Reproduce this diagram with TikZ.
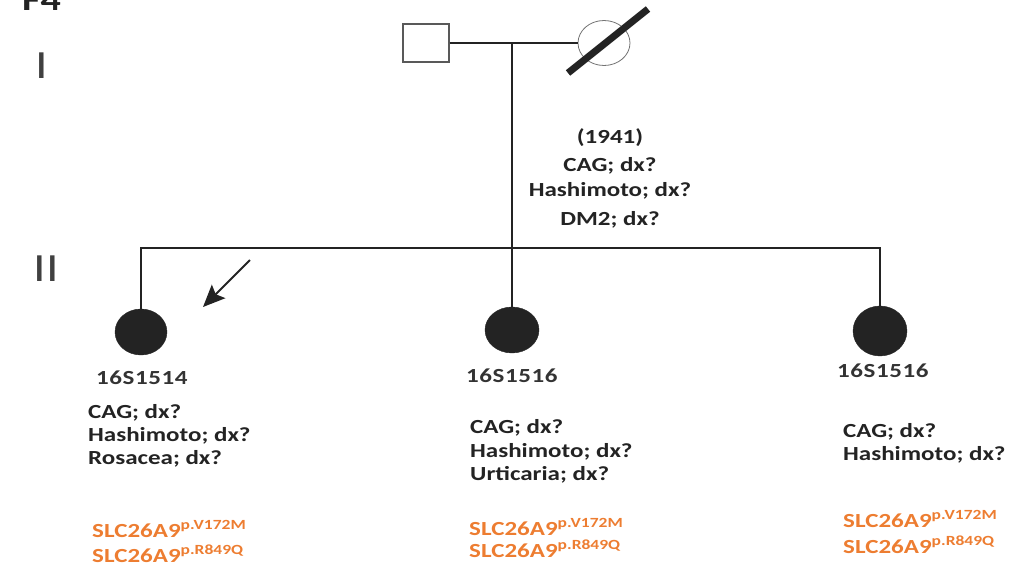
\documentclass[tikz,border=0pt]{standalone}
\usepackage{fontspec}
\setmainfont[FakeStretch=1.25]{Carlito}
\usetikzlibrary{shapes.geometric,arrows.meta,calc}
\definecolor{gorange}{RGB}{237,125,49}
\definecolor{ink}{RGB}{35,35,35}
\begin{document}
\begin{tikzpicture}[x=1pt,y=-1pt,
  ln/.style={line width=1.6pt, draw=ink},
  txt/.style={font=\fontsize{20}{24}\selectfont\bfseries, text=ink, inner sep=0pt, anchor=base west},
  ctxt/.style={txt, anchor=base},
  gene/.style={txt, text=gorange},
  idtxt/.style={font=\fontsize{20}{24}\selectfont\bfseries\addfontfeature{LetterSpace=3}, text=black!80, inner sep=0pt, anchor=base west},
  gen/.style={font=\fontsize{40}{44}\selectfont, text=black!75, inner sep=0pt, anchor=base},
  affected/.style={ellipse, fill=ink, draw=ink, inner sep=0pt}
]
\useasboundingbox (0,0) rectangle (1025,570);
% title
\node[font=\fontsize{32}{36}\selectfont\bfseries, text=ink, inner sep=0pt, anchor=base west] (title) at (22,10) {F4};
% generations
\node[gen] (g1) at (42,78) {I};
\node[gen] (g2) at (46,281) {II};
% generation I
\node[draw=black!65, line width=1.4pt, minimum width=46pt, minimum height=38pt, inner sep=0pt] (f) at (426,43) {};
\node[ellipse, draw=black!55, line width=0.8pt, minimum width=52pt, minimum height=45pt, inner sep=0pt] (m) at (604,43) {};
\draw[ln] (f.east) -- (m.west);
\draw[line width=7pt, draw=ink] ($(m.center)+(-36,30)$) -- ($(m.center)+(44,-34)$);
\coordinate (mid) at (512,43);
\coordinate (sib) at (512,248);
% generation II
\node[affected, minimum width=52pt, minimum height=46pt] (c1) at (141,332) {};
\node[affected, minimum width=54pt, minimum height=46pt] (c2) at (512,330) {};
\node[affected, minimum width=54pt, minimum height=50pt] (c3) at (880,331) {};
\draw[ln] (mid) -- (c2.north);
\draw[ln] (c1.north) -- (c1.north |- sib) -- (c3.north |- sib) -- (c3.north);
% proband arrow
\coordinate (pa) at (250,260);
\coordinate (pb) at (203,307);
\draw[line width=2pt, draw=ink, -{Stealth[length=22pt,width=19pt,inset=4pt]}] (pa) -- (pb);
% mother text
\node[ctxt] (m1) at (610,143) {(1941)};
\node[ctxt] (m2) at (610,171) {CAG; dx?};
\node[ctxt] (m3) at (610,196) {Hashimoto; dx?};
\node[ctxt] (m4) at (610,225) {DM2; dx?};
% child 1
\node[idtxt] (i1) at (96,384) {16S1514};
\node[txt] (a1) at (88,418) {CAG; dx?};
\node[txt] (a2) at (88,441) {Hashimoto; dx?};
\node[txt] (a3) at (88,464) {Rosacea; dx?};
\node[gene] (a4) at (92,537) {SLC26A9\textsuperscript{p.V172M}};
\node[gene] (a5) at (92,562) {SLC26A9\textsuperscript{p.R849Q}};
% child 2
\node[idtxt] (i2) at (466,382) {16S1516};
\node[txt] (b1) at (470,433) {CAG; dx?};
\node[txt] (b2) at (470,457) {Hashimoto; dx?};
\node[txt] (b3) at (470,480) {Urticaria; dx?};
\node[gene] (b4) at (469,535) {SLC26A9\textsuperscript{p.V172M}};
\node[gene] (b5) at (469,557) {SLC26A9\textsuperscript{p.R849Q}};
% child 3
\node[idtxt] (i3) at (837,377) {16S1516};
\node[txt] (d1) at (843,437) {CAG; dx?};
\node[txt] (d2) at (843,460) {Hashimoto; dx?};
\node[gene] (d4) at (843,527) {SLC26A9\textsuperscript{p.V172M}};
\node[gene] (d5) at (843,553) {SLC26A9\textsuperscript{p.R849Q}};
\end{tikzpicture}
\end{document}
